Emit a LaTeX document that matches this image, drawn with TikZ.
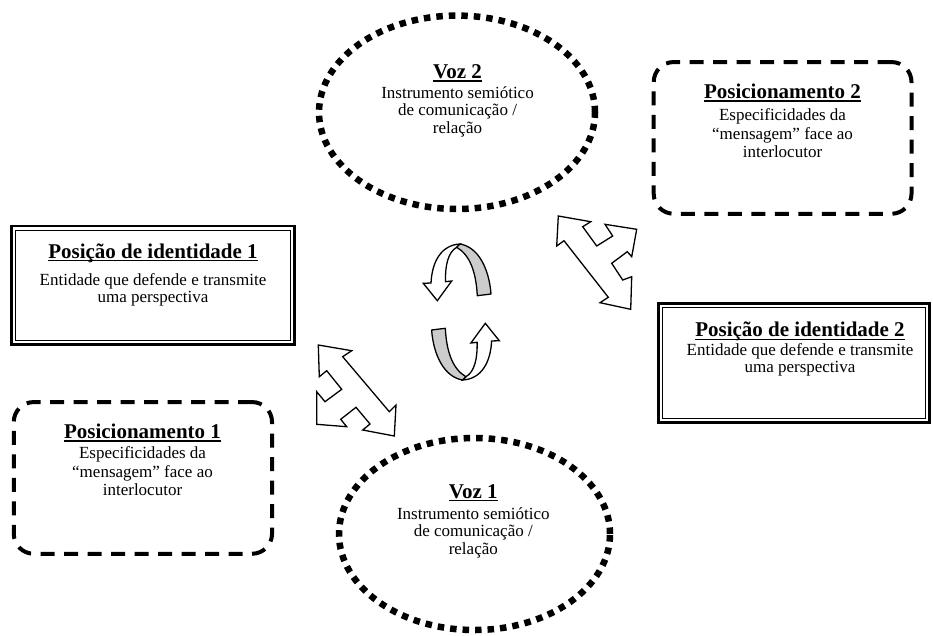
\documentclass[tikz,border=0pt]{standalone}
\usepackage{fontspec}
\setmainfont{Liberation Serif}
\usetikzlibrary{shapes.geometric}
\newsavebox\tulbox
\newcommand\tul[1]{\sbox\tulbox{#1}\rlap{\rule[-3.2pt]{\wd\tulbox}{1.3pt}}\usebox\tulbox}
\tikzset{
  voz/.style={ellipse, draw, line width=6.5pt, dash pattern=on 6.5pt off 6pt, inner sep=0pt},
  posbox/.style={rectangle, draw, rounded corners=20pt, line width=4pt, dash pattern=on 14pt off 9.5pt, inner sep=0pt},
  idbox/.style={rectangle, draw, line width=2.6pt, inner sep=0pt, outer sep=0pt},
  idinner/.style={line width=1.2pt},
  ttl/.style={font=\fontsize{21}{24}\selectfont\bfseries, anchor=base, inner sep=0pt},
  bodytxt/.style={font=\fontsize{17}{#1}\selectfont, align=center, anchor=north, inner sep=0pt},
  blockarrow/.style={draw, fill=white, line width=1.3pt, line join=miter},
  ribbon/.style={draw, fill=gray!40, line width=1.3pt, line join=round},
  whitepart/.style={draw, fill=white, line width=1.3pt, line join=miter},
}
\begin{document}
\begin{tikzpicture}[x=1pt,y=-1pt]
\useasboundingbox (0,0) rectangle (933,635);

% Voz ellipses
\node[voz, minimum width=276pt, minimum height=193.4pt] (v2) at (457,112.3) {};
\node[voz, minimum width=271pt, minimum height=192pt] (v1) at (474.5,534) {};

% Posicionamento boxes
\node[posbox, minimum width=257.8pt, minimum height=151.7pt] (p2) at (782.6,137.9) {};
\node[posbox, minimum width=258.3pt, minimum height=151.7pt] (p1) at (142.9,477.9) {};

% Identity boxes
\node[idbox, minimum width=283.4pt, minimum height=118.9pt] (i1) at (153,285.3) {};
\draw[idinner] ([shift={(4.3pt,-4.3pt)}]i1.north west) rectangle ([shift={(-4.3pt,4.3pt)}]i1.south east);
\node[idbox, minimum width=271.4pt, minimum height=119.4pt] (i2) at (794,363) {};
\draw[idinner] ([shift={(4.3pt,-4.3pt)}]i2.north west) rectangle ([shift={(-4.3pt,4.3pt)}]i2.south east);

% Texts
\node[ttl] (i1t) at (153,258) {\tul{Posição de identidade 1}};
\node[bodytxt=17] (i1b) at (153,273.4) {Entidade que defende e transmite\\uma perspectiva};

\node[ttl] (i2t) at (800,336.7) {\tul{Posição de identidade 2}};
\node[bodytxt=17] (i2b) at (800,343.4) {Entidade que defende e transmite\\uma perspectiva};

\node[ttl] (p2t) at (782.5,98.3) {\tul{Posicionamento 2}};
\node[bodytxt=18.5] (p2b) at (782.5,108.4) {Especificidades da\\“mensagem” face ao\\interlocutor};

\node[ttl] (p1t) at (142.5,438.3) {\tul{Posicionamento 1}};
\node[bodytxt=18.5] (p1b) at (142.5,446.7) {Especificidades da\\“mensagem” face ao\\interlocutor};

\node[ttl] (v2t) at (457.5,78.3) {\tul{Voz 2}};
\node[bodytxt=17.5] (v2b) at (457.5,86.1) {Instrumento semiótico\\de comunicação /\\relação};

\node[ttl] (v1t) at (473.3,498) {\tul{Voz 1}};
\node[bodytxt=17.5] (v1b) at (473.3,507.4) {Instrumento semiótico\\de comunicação /\\relação};

% Three-headed block arrows
\draw[blockarrow] (558.3,216) -- (590.7,221.7) -- (582.7,226.7) -- (596.7,246) -- (612.7,236) -- (605,224.3) -- (636.7,229.3) -- (631.7,256.7) -- (627.3,251.7) -- (611.7,263.3) -- (622.7,280) -- (631.7,276.7) -- (630.7,309.3) -- (600,302.7) -- (608.3,297.3) -- (564,240.7) -- (556.7,246) -- cycle;
\draw[blockarrow] (318.3,345) -- (319.3,376.7) -- (326.7,370.7) -- (341.7,389.3) -- (325,401.7) -- (316.7,391.7) -- (316.7,424.3) -- (346.7,426.7) -- (340.7,419.3) -- (356,407.3) -- (370,424) -- (362.7,430) -- (394.3,436) -- (396,405) -- (389.3,411.7) -- (342.7,356.7) -- (351.7,350.7) -- cycle;

% Curved ribbon arrows
\foreach \ang in {0,180}{
\begin{scope}[rotate around={\ang:(461.3,312)}]
\draw[whitepart] (460,244) .. controls (441,245) and (432,262) .. (431,283) -- (423.3,283.3) -- (437.3,300.7) -- (451.7,281) -- (445.5,281.7) .. controls (445,266) and (448,252) .. (456.7,247.3) -- cycle;
\draw[ribbon] (460,244) .. controls (478,247) and (489,268) .. (491,294) -- (477.3,295.7) .. controls (476,272) and (470,255) .. (456.7,247.3) -- cycle;
\end{scope}
}
\end{tikzpicture}
\end{document}
